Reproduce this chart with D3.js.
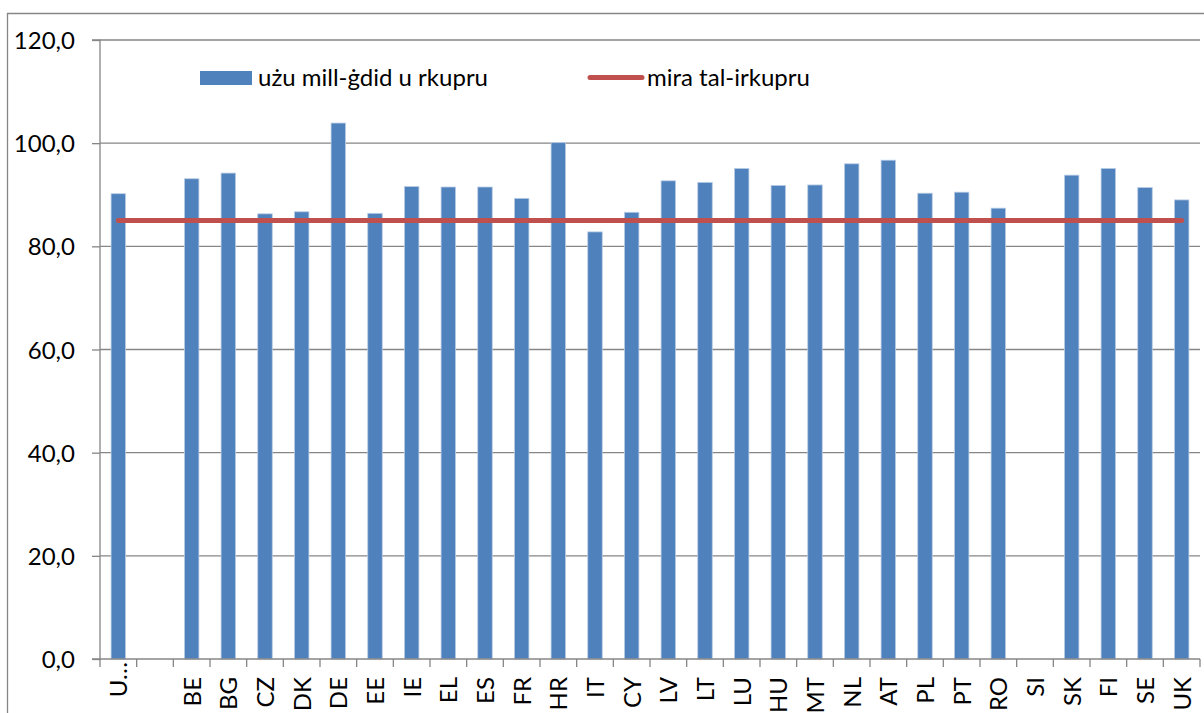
<!DOCTYPE html>
<html><head><meta charset="utf-8">
<script src="https://cdnjs.cloudflare.com/ajax/libs/d3/7.8.5/d3.min.js"></script>
<style>body{margin:0;background:#fff}svg{display:block}text{font-family:Lato,"Open Sans",sans-serif;fill:#000}</style>
</head><body><svg id="c" width="1204" height="713"></svg>
<script>
const categories = ["U…","","BE","BG","CZ","DK","DE","EE","IE","EL","ES","FR","HR","IT","CY","LV","LT","LU","HU","MT","NL","AT","PL","PT","RO","SI","SK","FI","SE","UK"];
const usedValues = [90.2,null,93.1,94.2,86.3,86.7,103.9,86.4,91.6,91.5,91.5,89.3,100.1,82.8,86.6,92.7,92.4,95.1,91.8,91.9,96.0,96.7,90.3,90.5,87.4,null,93.8,95.1,91.4,89.0];
const targetValue = 85;
const yTicks = [0,20,40,60,80,100,120];
const seriesNames = ["użu mill-ġdid u rkupru","mira tal-irkupru"];

(function(){
const svg = d3.select("#c");
const mL = 100, mR = 1200, mT = 40, mB = 659;
const grey = "#868686";
const fs = 24;

// outer frame
svg.append("line").attr("x1",7).attr("x2",1204).attr("y1",13.5).attr("y2",13.5).attr("stroke",grey).attr("stroke-width",1.3);
svg.append("line").attr("x1",7.5).attr("x2",7.5).attr("y1",13).attr("y2",713).attr("stroke",grey).attr("stroke-width",1.3);

const x = d3.scaleBand().domain(d3.range(categories.length)).range([mL,mR]).paddingInner(0).paddingOuter(0);
const y = d3.scaleLinear().domain([0,120]).range([mB,mT]);

// gridlines
svg.append("g").selectAll("line").data(yTicks.filter(d=>d>0)).join("line")
  .attr("x1",mL).attr("x2",mR).attr("y1",d=>y(d)).attr("y2",d=>y(d))
  .attr("stroke",grey).attr("stroke-width",1.3);

// y axis
const yAxis = svg.append("g").attr("transform",`translate(${mL},0)`)
  .call(d3.axisLeft(y).tickValues(yTicks).tickSize(8).tickPadding(17).tickFormat(d=>d.toFixed(1).replace(".",",")));
yAxis.select(".domain").attr("stroke",grey).attr("stroke-width",1.3).attr("d",`M-8,${mT}H0V${mB}H-8`);
yAxis.selectAll(".tick line").attr("stroke",grey).attr("stroke-width",1.3);
yAxis.selectAll(".tick text").attr("font-size",fs).attr("font-family","Lato").attr("fill","#000").attr("dy","0.36em");

// bars
const bw = 14.5;
svg.append("g").selectAll("rect").data(usedValues.map((v,i)=>({v,i})).filter(d=>d.v!=null)).join("rect")
  .attr("x",d=>x(d.i)+x.bandwidth()/2-bw/2).attr("width",bw)
  .attr("y",d=>y(d.v)).attr("height",d=>y(0)-y(d.v))
  .attr("fill","#4F81BD").attr("stroke","#B9CDE5").attr("stroke-width",0.8);

// x axis
const xg = svg.append("g");
xg.append("line").attr("x1",mL).attr("x2",mR).attr("y1",mB).attr("y2",mB).attr("stroke",grey).attr("stroke-width",1.3);
xg.selectAll(".tk").data(d3.range(categories.length+1)).join("line").attr("class","tk")
  .attr("x1",i=>mL+i*x.bandwidth()).attr("x2",i=>mL+i*x.bandwidth())
  .attr("y1",mB).attr("y2",mB+8).attr("stroke",grey).attr("stroke-width",1.3);
xg.selectAll("text.lb").data(categories.map((c,i)=>({c,i}))).join("text").attr("class","lb")
  .attr("transform",d=>`translate(${x(d.i)+x.bandwidth()/2+9},${d.c.endsWith("…")?mB+3:mB+18}) rotate(-90)`)
  .attr("text-anchor","end").attr("font-size",fs).text(d=>d.c);

// target line
svg.append("line").attr("x1",x(0)+x.bandwidth()/2).attr("x2",x(categories.length-1)+x.bandwidth()/2)
  .attr("y1",y(targetValue)).attr("y2",y(targetValue))
  .attr("stroke","#C0504D").attr("stroke-width",5).attr("stroke-linecap","round");

// legend
svg.append("rect").attr("x",200).attr("y",71).attr("width",52).attr("height",14).attr("fill","#4F81BD");
svg.append("text").attr("x",258).attr("y",86).attr("font-size",fs).text(seriesNames[0]);
svg.append("line").attr("x1",590).attr("x2",642).attr("y1",77.5).attr("y2",77.5).attr("stroke","#C0504D").attr("stroke-width",5).attr("stroke-linecap","round");
svg.append("text").attr("x",647).attr("y",86).attr("font-size",fs).text(seriesNames[1]);
})();
</script></body></html>
